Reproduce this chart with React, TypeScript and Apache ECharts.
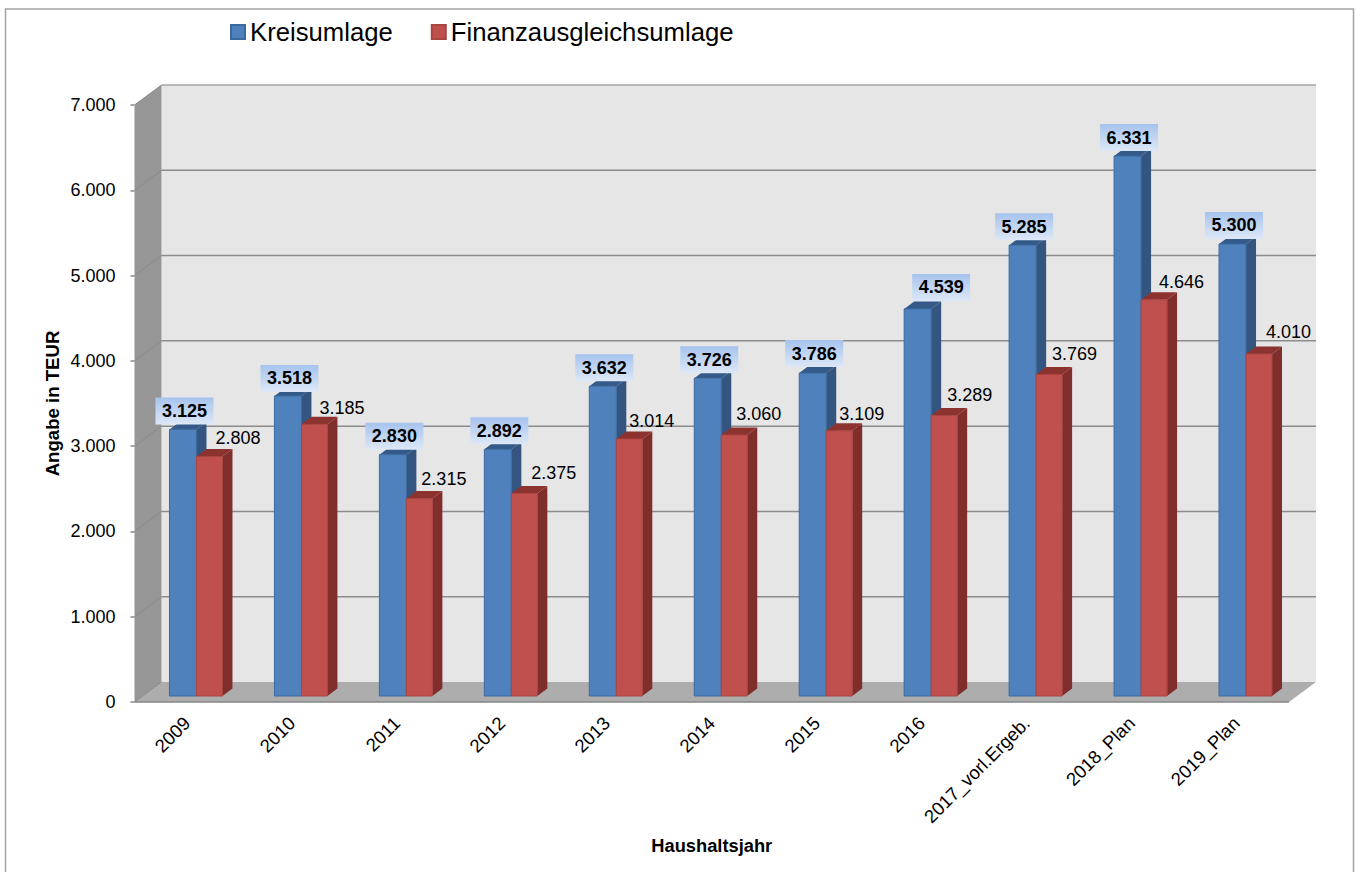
import React, { useEffect, useRef } from "react";
import * as echarts from "echarts";

const categories = ["2009", "2010", "2011", "2012", "2013", "2014", "2015", "2016", "2017_vorl.Ergeb.", "2018_Plan", "2019_Plan"];
const kreisumlage = [3125, 3518, 2830, 2892, 3632, 3726, 3786, 4539, 5285, 6331, 5300];
const finanzausgleich = [2808, 3185, 2315, 2375, 3014, 3060, 3109, 3289, 3769, 4646, 4010];
const gridValues = [0, 1000, 2000, 3000, 4000, 5000, 6000, 7000];
// hand-placed label nudges seen in the reference, in pixels [dx, dy]
const kreisLabelNudge = [[0, 0], [0, 1], [0, 0], [0, 0], [0, 0], [0, 0], [0, -1], [22, -3], [0, 0], [0, 0], [0, 0]];
const finanzLabelNudge = [[1, 0], [0, 2], [-3, -1], [2, -2], [-5, 1], [-3, -3], [-5, 2], [-2, -2], [-2, -2], [0, 1], [2, -4]];

const FONT = '"Liberation Sans", Arial, sans-serif';
const WALL_DX = 27;
const WALL_DY = -20;
const BAR_SHIFT_Y = -6;
const DEPTH_X = 10;
const DEPTH_Y = -7.5;

const fmt = (v: number) => {
  if (v === 0) return "0";
  const s = String(v);
  return s.slice(0, s.length - 3) + "." + s.slice(s.length - 3);
};

function wallRender(params: any, api: any) {
  const cs = params.coordSys;
  const { x, y, width: w, height: h } = cs;
  const dx = WALL_DX, dy = WALL_DY;
  const children: any[] = [
    { type: "polygon", shape: { points: [[x + dx, y + dy], [x + w + dx, y + dy], [x + w + dx, y + h + dy], [x + dx, y + h + dy]] }, style: { fill: "#e6e6e6" } },
    { type: "polygon", shape: { points: [[x, y], [x + dx, y + dy], [x + dx, y + h + dy], [x, y + h]] }, style: { fill: "#969696" } },
    { type: "polygon", shape: { points: [[x, y + h], [x + dx, y + h + dy], [x + w + dx, y + h + dy], [x + w, y + h]] }, style: { fill: "#adadad" } },
  ];
  gridValues.forEach((v) => {
    const p = api.coord([0, v]);
    const py = p[1];
    if (v > 0) {
      children.push({ type: "line", shape: { x1: x + dx, y1: py + dy, x2: x + w + dx, y2: py + dy }, style: { stroke: v === 7000 ? "#a6a6a6" : "#8c8c8c", lineWidth: 1.5 } });
    }
    children.push({ type: "line", shape: { x1: x, y1: py, x2: x + dx, y2: py + dy }, style: { stroke: "#8a8a8a", lineWidth: 1 } });
  });
  children.push({ type: "line", shape: { x1: x, y1: y + h, x2: x + w, y2: y + h }, style: { stroke: "#868686", lineWidth: 1.5 } });
  return { type: "group", children };
}

function barRender(x0: number, x1: number, front: string, edge: string, side: string, top: string) {
  return (_params: any, api: any) => {
    const c = api.coord([api.value(0), api.value(1)]);
    const b = api.coord([api.value(0), 0]);
    const l = c[0] + x0, r = c[0] + x1;
    const t = c[1] + BAR_SHIFT_Y, bt = b[1] + BAR_SHIFT_Y;
    return {
      type: "group",
      children: [
        { type: "polygon", shape: { points: [[r, t], [r + DEPTH_X, t + DEPTH_Y], [r + DEPTH_X, bt + DEPTH_Y], [r, bt]] }, style: { fill: side } },
        { type: "polygon", shape: { points: [[l, t], [l + DEPTH_X, t + DEPTH_Y], [r + DEPTH_X, t + DEPTH_Y], [r, t]] }, style: { fill: top } },
        { type: "rect", shape: { x: l, y: t, width: r - l, height: bt - t }, style: { fill: front, stroke: edge, lineWidth: 1 } },
      ],
    };
  };
}

function blueLabelRender(params: any, api: any) {
  const v = api.value(1);
  const c = api.coord([api.value(0), v]);
  const n = kreisLabelNudge[params.dataIndex];
  const t = c[1] + BAR_SHIFT_Y + n[1];
  const cx = c[0] - 2.5 + n[0];
  return {
    type: "group",
    children: [
      {
        type: "rect",
        shape: { x: cx - 29, y: t - 32, width: 58, height: 27 },
        style: {
          fill: new echarts.graphic.LinearGradient(0, 0, 0, 1, [
            { offset: 0, color: "#a6c3ee" },
            { offset: 1, color: "#dde8f7" },
          ]),
        },
      },
      { type: "text", style: { x: cx, y: t - 18.5, text: fmt(v), align: "center", verticalAlign: "middle", fill: "#000", font: `bold 18px ${FONT}` } },
    ],
  };
}

function redLabelRender(params: any, api: any) {
  const v = api.value(1);
  const c = api.coord([api.value(0), v]);
  const n = finanzLabelNudge[params.dataIndex];
  const t = c[1] + BAR_SHIFT_Y + n[1];
  return {
    type: "text",
    style: { x: c[0] + 50 + n[0], y: t - 18.5, text: fmt(v), align: "center", verticalAlign: "middle", fill: "#000", font: `18px ${FONT}` },
  };
}

const toPairs = (arr: number[]) => arr.map((v, i) => [i, v]);

export default function App() {
  const ref = useRef<HTMLDivElement>(null);
  useEffect(() => {
    const chart = echarts.init(ref.current!, undefined, { renderer: "svg" });
    chart.setOption({
      animation: false,
      backgroundColor: "#fff",
      textStyle: { fontFamily: FONT },
      graphic: [
        { type: "rect", z: -10, silent: true, shape: { x: 5.5, y: 9, width: 1348, height: 900 }, style: { fill: "#fff", stroke: "#a3a3a3", lineWidth: 1.5 } },
      ],
      legend: {
        data: ["Kreisumlage", "Finanzausgleichsumlage"],
        left: 230,
        top: 19,
        padding: 0,
        icon: "rect",
        itemWidth: 14,
        itemHeight: 14,
        itemGap: 38,
        textStyle: { fontFamily: FONT, fontSize: 25.7, color: "#000" },
      },
      grid: { left: 134.5, top: 105, width: 1154.5, height: 597, outerBoundsMode: "none", containLabel: false },
      xAxis: {
        type: "category",
        data: categories,
        name: "Haushaltsjahr",
        nameLocation: "middle",
        nameGap: 134,
        nameMoveOverlap: false,
        nameTextStyle: { fontFamily: FONT, fontSize: 18.3, fontWeight: "bold", color: "#000" },
        axisLine: { show: false },
        axisTick: { show: false },
        axisLabel: { rotate: 45, interval: 0, margin: 18, fontFamily: FONT, fontSize: 18.5, color: "#000" },
        splitLine: { show: false },
      },
      yAxis: {
        type: "value",
        min: 0,
        max: 7000,
        interval: 1000,
        name: "Angabe in TEUR",
        nameLocation: "middle",
        nameGap: 73,
        nameRotate: 90,
        nameMoveOverlap: false,
        nameTextStyle: { fontFamily: FONT, fontSize: 18.6, fontWeight: "bold", color: "#000" },
        axisLine: { show: false },
        axisTick: { show: true, length: 4, lineStyle: { color: "#868686", width: 1.5 } },
        axisLabel: { margin: 19, padding: [2, 0, 0, 0], fontFamily: FONT, fontSize: 18, color: "#000", formatter: (v: number) => fmt(v) },
        splitLine: { show: false },
      },
      series: [
        { name: "walls", type: "custom", renderItem: wallRender, data: [[0, 0]], silent: true, clip: false, z: 1, encode: { x: 0, y: 1 } },
        {
          name: "Kreisumlage", type: "custom", renderItem: barRender(-17.5, 9.5, "#4f81bd", "#3c6a9f", "#33557f", "#345a8a"),
          data: toPairs(kreisumlage), itemStyle: { color: "#4f81bd", borderColor: "#3c6a9f", borderWidth: 1 }, clip: false, z: 2, encode: { x: 0, y: 1 },
        },
        {
          name: "Finanzausgleichsumlage", type: "custom", renderItem: barRender(9.5, 35.5, "#c0504d", "#a94643", "#7f2e2c", "#8c3330"),
          data: toPairs(finanzausgleich), itemStyle: { color: "#c0504d", borderColor: "#a94643", borderWidth: 1 }, clip: false, z: 3, encode: { x: 0, y: 1 },
        },
        { name: "labelsK", type: "custom", renderItem: blueLabelRender, data: toPairs(kreisumlage), clip: false, z: 4, encode: { x: 0, y: 1 } },
        { name: "labelsF", type: "custom", renderItem: redLabelRender, data: toPairs(finanzausgleich), clip: false, z: 4, encode: { x: 0, y: 1 } },
      ],
    });
    return () => chart.dispose();
  }, []);
  return <div ref={ref} style={{ position: "fixed", left: 0, top: 0, width: 1356, height: 872 }} />;
}
